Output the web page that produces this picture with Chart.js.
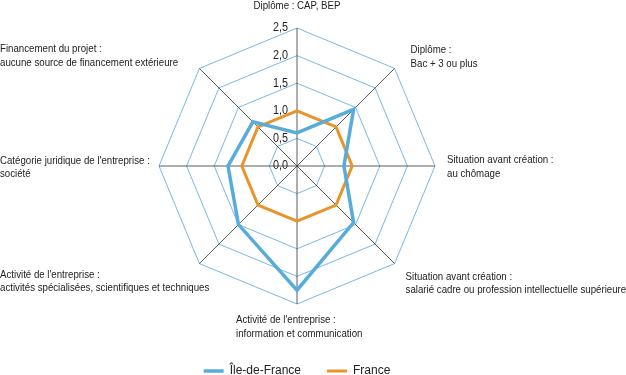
<!DOCTYPE html>
<html>
<head>
<meta charset="utf-8">
<script src="https://cdn.jsdelivr.net/npm/chart.js@4.4.1/dist/chart.umd.min.js"></script>
<style>
  html, body { margin: 0; padding: 0; background: #fff; }
  #wrap { width: 626px; height: 375px; }
</style>
</head>
<body>
<div id="wrap"><canvas id="myChart"></canvas></div>
<script>
    // categories (axes) du radar, chaque libellé sur une ou deux lignes
    const categories = [
        ['Diplôme : CAP, BEP'],
        ['Diplôme :', 'Bac + 3 ou plus'],
        ['Situation avant création :', 'au chômage'],
        ['Situation avant création :', 'salarié cadre ou profession intellectuelle supérieure'],
        ["Activité de l'entreprise :", 'information et communication'],
        ["Activité de l'entreprise :", 'activités spécialisées, scientifiques et techniques'],
        ["Catégorie juridique de l'entreprise :", 'société'],
        ['Financement du projet :', 'aucune source de financement extérieure']
    ];

    // séries
    const valeursIDF = [0.6, 1.45, 0.85, 1.45, 2.25, 1.5, 1.25, 1.13];
    const valeursFrance = [1.0, 1.0, 1.0, 1.0, 1.0, 1.0, 1.0, 1.0];

    // graduations
    const graduations = [0, 0.5, 1.0, 1.5, 2.0, 2.5];

    const police = "'Liberation Sans', Arial, sans-serif";

    // texte un peu condensé (la police d'origine est étroite)
    function texteEtroit(ctx, t, x, y, etroit) {
        ctx.save();
        ctx.translate(x, y);
        ctx.scale(etroit, 1);
        ctx.fillText(t, 0, 0);
        ctx.restore();
    }

    // libellés des axes + graduations dessinés à la main
    const libellesPlugin = {
        id: 'libelles',
        afterDraw(chart) {
            const scale = chart.scales.r;
            const ctx = chart.ctx;
            ctx.save();
            ctx.fillStyle = '#222';
            ctx.textBaseline = 'middle';

            // graduations a gauche de l'axe vertical
            ctx.textAlign = 'right';
            ctx.font = '12px ' + police;
            graduations.forEach(function (v) {
                const d = scale.getDistanceFromCenterForValue(v);
                texteEtroit(ctx, v.toFixed(1).replace('.', ','), scale.xCenter - 9, scale.yCenter - d, 0.9);
            });

            ctx.font = '11px ' + police;
            const hauteurLigne = 13.5;
            categories.forEach(function (lignes, i) {
                const p = scale.getPointPosition(i, scale.drawingArea);
                let x, y;
                ctx.textAlign = 'left';
                if (i === 0) { ctx.textAlign = 'center'; x = p.x; y = p.y - 22; }
                else if (i === 1) { x = p.x + 16; y = p.y - 18; }
                else if (i === 2) { x = p.x + 12; y = p.y - 6; }
                else if (i === 3) { x = p.x + 11; y = p.y + 13; }
                else if (i === 4) { x = p.x - 61; y = p.y + 16; }
                else if (i === 5) { x = 0; y = p.y + 11; }
                else if (i === 6) { x = 0; y = p.y - 5.5; }
                else { x = 0; y = p.y - 19; }
                lignes.forEach(function (t, k) {
                    texteEtroit(ctx, t, x, y + k * hauteurLigne, 0.88);
                });
            });
            ctx.restore();
        }
    };

    const dados = {
        labels: categories.map(c => c.join(' ')),
        datasets: [
            {
                label: 'Île-de-France',
                data: valeursIDF,
                borderColor: 'rgb(88, 172, 220)',
                backgroundColor: 'rgb(88, 172, 220)',
                borderWidth: 3.5,
                pointRadius: 0,
                fill: false
            },
            {
                label: 'France',
                data: valeursFrance,
                borderColor: 'rgb(232, 148, 42)',
                backgroundColor: 'rgb(232, 148, 42)',
                borderWidth: 3,
                pointRadius: 0,
                fill: false
            }
        ]
    };

    const config = {
        type: 'radar',
        data: dados,
        options: {
            responsive: true,
            maintainAspectRatio: false,
            animation: false,
            // bas negatif : la legende descend tout en bas sans reduire le radar
            layout: { padding: { top: 28, left: 0, right: 32, bottom: -12 } },
            scales: {
                r: {
                    min: 0,
                    max: 2.5,
                    ticks: { stepSize: 0.5, display: false },
                    pointLabels: { display: false },
                    grid: { color: 'rgb(120, 184, 230)', lineWidth: 1, circular: false },
                    angleLines: { color: '#333', lineWidth: 0.8 }
                }
            },
            plugins: {
                legend: {
                    position: 'bottom',
                    title: { display: true, text: '', font: { size: 10 }, padding: { top: 0, bottom: 23 } },
                    labels: {
                        usePointStyle: true,
                        pointStyle: 'line',
                        pointStyleWidth: 20,
                        padding: 26,
                        color: '#222',
                        font: { family: police, size: 12 }
                    }
                },
                tooltip: { enabled: false }
            }
        },
        plugins: [libellesPlugin]
    };

    const myChart = new Chart(document.getElementById('myChart'), config);
</script>
</body>
</html>
